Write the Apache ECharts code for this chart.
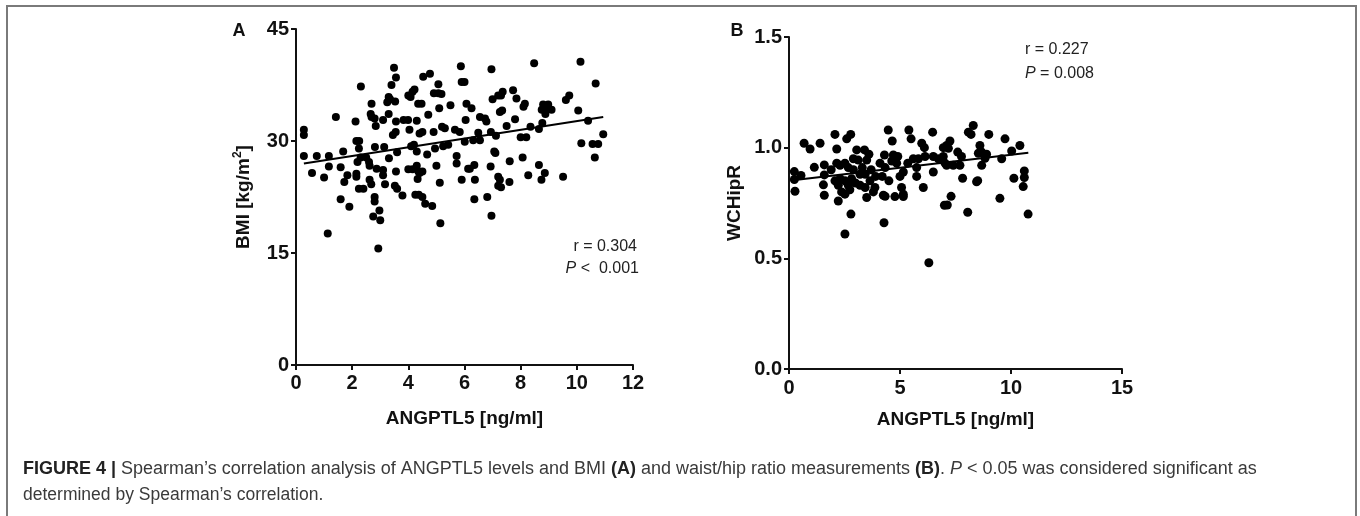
<!DOCTYPE html>
<html>
<head>
<meta charset="utf-8">
<script src="https://cdn.jsdelivr.net/npm/echarts@6/dist/echarts.min.js"></script>
<style>
html,body{margin:0;padding:0;background:#fff;}
#c{width:1360px;height:516px;}
</style>
</head>
<body>
<div id="c"></div>
<script>
// Panel A: ANGPTL5 [ng/ml] vs BMI [kg/m2]
const pointsA = [
[0.28,31.5],[0.28,30.8],[0.28,28.0],[0.74,28.0],[0.57,25.7],[1.0,25.1],[1.17,28.0],[1.17,26.6],[1.42,33.2],[1.13,17.6],
[1.59,26.5],[1.68,28.6],[1.83,25.4],[1.72,24.5],[1.59,22.2],[1.90,21.2],[2.12,32.6],[2.31,37.3],[2.15,30.0],[2.25,30.0],
[2.24,29.0],[2.19,27.2],[2.15,25.6],[2.15,25.2],[2.24,23.6],[2.40,23.6],[2.3,27.8],[2.5,27.8],[2.6,27.2],[2.62,26.7],
[2.62,24.8],[2.68,24.2],[2.69,35.0],[2.66,33.6],[2.69,33.2],[2.8,33.0],[2.84,32.0],[2.81,29.2],[2.8,22.5],[2.8,21.9],
[2.97,20.7],[2.75,19.9],[3.0,19.4],[2.93,15.6],[2.87,26.3],[3.1,26.1],[3.1,25.4],[3.17,24.2],[3.1,32.8],[3.14,29.2],
[3.31,27.7],[3.3,33.6],[3.3,35.9],[3.25,35.2],[3.35,35.6],[3.49,39.8],[3.56,38.5],[3.4,37.5],[3.53,35.3],[3.56,32.6],
[3.45,30.8],[3.55,31.2],[3.6,28.5],[3.56,25.9],[3.52,24.0],[3.6,23.6],[3.79,22.7],[3.83,32.8],[3.99,32.8],[4.0,36.1],
[4.08,35.9],[4.22,36.9],[4.15,36.6],[4.04,31.5],[4.1,29.3],[4.2,29.5],[4.0,26.2],[4.15,26.2],[4.3,26.7],[4.36,25.9],
[4.33,24.9],[4.5,25.9],[4.4,25.7],[4.25,22.8],[4.37,22.8],[4.3,32.7],[4.35,35.0],[4.47,35.0],[4.5,22.5],[4.6,21.6],
[4.53,38.6],[4.77,39.0],[4.4,31.0],[4.5,31.2],[4.3,28.6],[4.71,33.5],[4.67,28.2],[4.85,21.3],[4.9,31.2],[4.95,29.0],
[4.91,36.4],[5.07,36.4],[5.18,36.3],[5.07,37.6],[5.1,34.4],[5.0,26.7],[5.12,24.4],[5.14,19.0],[5.2,31.9],[5.3,31.7],
[5.24,29.3],[5.42,29.5],[5.5,34.8],[5.72,28.0],[5.72,27.0],[5.66,31.5],[5.83,31.2],[5.9,24.8],[5.87,40.0],[5.9,37.9],
[6.0,37.9],[6.07,35.0],[6.04,32.8],[6.01,29.9],[6.13,26.3],
[6.96,39.6],[8.48,40.4],[10.13,40.6],[10.67,37.7],[6.25,34.4],[6.55,33.2],[6.73,33.0],[6.78,32.6],[7.0,35.6],[7.2,36.1],
[7.36,36.6],[7.3,36.1],[7.73,36.8],[7.85,35.7],[8.15,35.0],[8.1,34.6],[7.26,33.9],[7.34,34.1],[7.8,32.9],[7.5,32.0],
[8.8,34.9],[8.98,34.9],[8.92,34.2],[8.75,34.2],[9.1,34.2],[8.88,33.6],[8.65,31.6],[8.77,32.4],[8.35,31.9],[9.61,35.5],
[9.73,36.1],[10.05,34.1],[10.4,32.7],[10.94,30.9],[10.16,29.7],[10.56,29.6],[10.76,29.6],[10.64,27.8],[6.49,31.1],[6.94,31.2],
[7.12,30.7],[8.0,30.5],[8.2,30.5],[6.31,30.1],[6.55,30.1],[7.06,28.6],[7.1,28.4],[7.61,27.3],[8.07,27.8],[8.65,26.8],
[8.86,25.7],[8.74,24.8],[8.27,25.4],[9.51,25.2],[6.19,26.3],[6.35,26.8],[6.93,26.6],[6.37,24.8],[7.2,25.2],[7.26,24.8],
[7.2,24.0],[7.3,23.8],[7.6,24.5],[6.35,22.2],[6.81,22.5],[6.96,20.0]
];
const fitA = [[0.28,27.0],[10.94,33.2]];
const xTicksA = [0, 12, 2];   // min, max, interval
const yTicksA = [0, 45, 15];

// Panel B: ANGPTL5 [ng/ml] vs WCHipR
const pointsB = [
[0.24,0.892],[0.24,0.856],[0.54,0.874],[0.27,0.803],[0.68,1.02],[0.95,0.994],[1.4,1.02],[1.14,0.911],[1.59,0.922],[1.55,0.832],
[1.59,0.877],[1.59,0.785],[2.07,1.06],[2.15,0.994],[2.6,1.04],[2.78,1.06],[2.15,0.93],[2.3,0.92],[2.07,0.85],[2.22,0.83],
[2.3,0.86],[2.22,0.759],[2.52,0.93],[2.67,0.91],[2.52,0.85],[2.67,0.83],[2.82,0.86],[2.74,0.81],[2.52,0.79],[2.37,0.80],
[2.79,0.70],[2.52,0.61],[3.05,0.99],[3.4,0.99],[3.12,0.944],[3.5,0.944],[3.2,0.88],[3.43,0.88],[3.2,0.83],[3.43,0.82],
[3.65,0.85],[3.87,0.82],[3.5,0.775],[3.8,0.80],[4.25,0.785],[4.33,0.78],[4.47,1.08],[4.65,1.03],[4.3,0.967],[4.7,0.967],
[4.9,0.96],[4.1,0.93],[4.33,0.91],[4.63,0.94],[4.85,0.93],[4.2,0.87],[4.5,0.85],[4.28,0.661],[4.77,0.779],[5.15,0.779],
[5.07,0.82],[5.15,0.79],[5.0,0.87],[5.15,0.89],[5.35,0.93],[5.4,1.08],[5.5,1.04],[5.98,1.02],[6.1,1.0],[5.6,0.95],
[5.83,0.95],[6.13,0.96],[6.5,0.96],[6.73,0.95],[5.75,0.91],[5.75,0.87],[6.05,0.82],[6.5,0.89],[6.47,1.07],[6.3,0.48],
[7.0,0.74],[6.95,1.0],[2.9,0.9],[3.0,0.84],[3.3,0.91],[3.7,0.9],[2.9,0.95],[3.9,0.87],[3.6,0.97],[1.9,0.9],
[8.3,1.10],[8.08,1.07],[8.2,1.06],[9.0,1.06],[9.73,1.04],[10.4,1.01],[7.25,1.03],[7.1,1.01],[7.18,0.997],[8.6,1.01],
[8.68,0.98],[8.53,0.975],[8.9,0.97],[8.83,0.952],[10.03,0.985],[7.77,0.96],[7.7,0.92],[9.58,0.95],[6.95,0.96],[7.03,0.93],
[7.1,0.92],[7.4,0.92],[8.68,0.92],[10.6,0.895],[10.6,0.865],[10.55,0.824],[7.82,0.862],[8.5,0.851],[10.13,0.862],[7.3,0.78],
[7.13,0.741],[9.5,0.771],[8.05,0.708],[10.77,0.70],[7.6,0.98],[8.45,0.846]
];
const fitB = [[0.27,0.854],[10.78,0.977]];
const xTicksB = [0, 15, 5];
const yTicksB = [0, 1.5, 0.5];

const xName = 'ANGPTL5 [ng/ml]';
const statsA = ['r = 0.304', 'P', ' <  0.001'];
const statsB = ['r = 0.227', 'P', ' = 0.008'];
const captionLine1 = ['FIGURE 4 |', ' Spearman\u2019s correlation analysis of ANGPTL5 levels and BMI ', '(A)', ' and waist/hip ratio measurements ', '(B)', '. ', 'P', ' < 0.05 was considered significant as'];
const captionLine2 = 'determined by Spearman\u2019s correlation.';

const FONT = 'Liberation Sans, Arial, sans-serif';
function axisCommon(t, fmt) {
  return {
    min: t[0], max: t[1], interval: t[2],
    splitLine: {show: false},
    axisLine: {show: true, lineStyle: {color: '#111', width: 2}},
    axisTick: {show: true, length: 5, lineStyle: {color: '#111', width: 2}},
    axisLabel: {color: '#111', fontSize: 20, fontWeight: 'bold', fontFamily: FONT, formatter: fmt},
    nameTextStyle: {color: '#111', fontSize: 19, fontWeight: 'bold', fontFamily: FONT},
    nameLocation: 'middle'
  };
}

const chart = echarts.init(document.getElementById('c'), null, {renderer: 'canvas'});
const option = {
  backgroundColor: '#fff',
  animation: false,
  grid: [
    {left: 296, top: 29, width: 337, height: 336},
    {left: 789, top: 37, width: 333, height: 332}
  ],
  xAxis: [
    Object.assign(axisCommon(xTicksA), {gridIndex: 0, type: 'value', name: xName, nameGap: 44,
      axisLabel: Object.assign(axisCommon(xTicksA).axisLabel, {margin: 8})}),
    Object.assign(axisCommon(xTicksB), {gridIndex: 1, type: 'value', name: xName, nameGap: 41,
      axisLabel: Object.assign(axisCommon(xTicksB).axisLabel, {margin: 9})})
  ],
  yAxis: [
    Object.assign(axisCommon(yTicksA), {gridIndex: 0, type: 'value', nameGap: 40,
      name: '{a|BMI [kg/m}{s|2}{a|]}',
      nameTextStyle: {rich: {
        a: {color: '#111', fontSize: 19, fontWeight: 'bold', fontFamily: FONT, lineHeight: 24},
        s: {color: '#111', fontSize: 12, fontWeight: 'bold', fontFamily: FONT, verticalAlign: 'top', lineHeight: 24, padding: [0, 0, 8, 0]}
      }},
      axisLabel: Object.assign(axisCommon(yTicksA).axisLabel, {margin: 7})}),
    Object.assign(axisCommon(yTicksB, v => v.toFixed(1)), {gridIndex: 1, type: 'value', name: 'WCHipR', nameGap: 45,
      axisLabel: Object.assign(axisCommon(yTicksB, v => v.toFixed(1)).axisLabel, {margin: 7})})
  ],
  series: [
    {type: 'scatter', xAxisIndex: 0, yAxisIndex: 0, data: pointsA, symbolSize: 8, itemStyle: {color: '#000', opacity: 1}},
    {type: 'line', xAxisIndex: 0, yAxisIndex: 0, data: fitA, showSymbol: false, lineStyle: {color: '#000', width: 2}, z: 3},
    {type: 'scatter', xAxisIndex: 1, yAxisIndex: 1, data: pointsB, symbolSize: 9, itemStyle: {color: '#000', opacity: 1}},
    {type: 'line', xAxisIndex: 1, yAxisIndex: 1, data: fitB, showSymbol: false, lineStyle: {color: '#000', width: 2}, z: 3}
  ],
  graphic: [
    {type: 'polyline', shape: {points: [[7, 520], [7, 6], [1356, 6], [1356, 520]]}, style: {stroke: '#7a7a7a', lineWidth: 2, fill: null}},
    {type: 'text', x: 239, y: 31, style: {text: 'A', font: 'bold 18px ' + FONT, fill: '#111', align: 'center', verticalAlign: 'middle'}},
    {type: 'text', x: 737, y: 31, style: {text: 'B', font: 'bold 18px ' + FONT, fill: '#111', align: 'center', verticalAlign: 'middle'}},
    {type: 'text', x: 637, y: 247, style: {text: statsA[0], font: '16px ' + FONT, fill: '#222', align: 'right', verticalAlign: 'middle'}},
    {type: 'text', x: 639, y: 269, style: {text: '{i|' + statsA[1] + '}{n|' + statsA[2] + '}', align: 'right', verticalAlign: 'middle',
      rich: {i: {font: 'italic 16px ' + FONT, fill: '#222'}, n: {font: '16px ' + FONT, fill: '#222'}}}},
    {type: 'text', x: 1025, y: 50, style: {text: statsB[0], font: '16px ' + FONT, fill: '#222', align: 'left', verticalAlign: 'middle'}},
    {type: 'text', x: 1025, y: 74, style: {text: '{i|' + statsB[1] + '}{n|' + statsB[2] + '}', align: 'left', verticalAlign: 'middle',
      rich: {i: {font: 'italic 16px ' + FONT, fill: '#222'}, n: {font: '16px ' + FONT, fill: '#222'}}}},
    {type: 'text', x: 23, y: 469, style: {
      text: '{b|' + captionLine1[0] + '}{n|' + captionLine1[1] + '}{b|' + captionLine1[2] + '}{n|' + captionLine1[3] + '}{b|' + captionLine1[4] + '}{n|' + captionLine1[5] + '}{i|' + captionLine1[6] + '}{n|' + captionLine1[7] + '}',
      align: 'left', verticalAlign: 'middle',
      rich: {
        b: {font: 'bold 18px ' + FONT, fill: '#222'},
        n: {font: '18px ' + FONT, fill: '#3a3a3a'},
        i: {font: 'italic 18px ' + FONT, fill: '#3a3a3a'}
      }}},
    {type: 'text', x: 23, y: 495, style: {text: captionLine2, font: '17.5px ' + FONT, fill: '#3a3a3a', align: 'left', verticalAlign: 'middle'}}
  ]
};
chart.setOption(option);
</script>
</body>
</html>
